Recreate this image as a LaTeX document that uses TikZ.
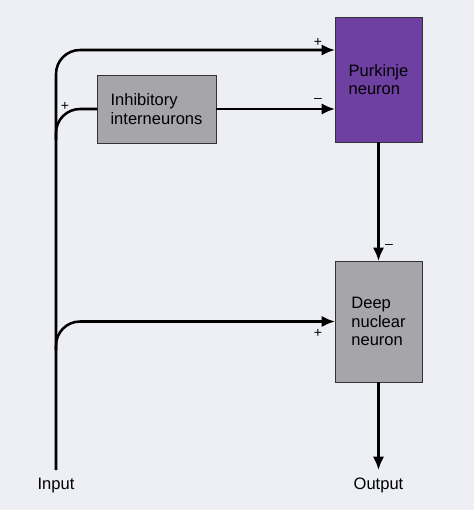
\documentclass[tikz,border=0pt]{standalone}
\usepackage{fontspec}
\setmainfont{Liberation Sans}
\usepackage{tikz}
\usetikzlibrary{arrows.meta}
\usetikzlibrary{positioning}
\definecolor{paper}{RGB}{237,239,244}
\definecolor{purkcol}{RGB}{110,64,162}
\definecolor{cellgray}{RGB}{166,166,170}
\tikzset{
    cellbox/.style={draw=black!80, line width=0.6pt, inner sep=0pt, outer sep=0pt,
        align=left, font=\fontsize{12.4}{13.7}\selectfont},
    axon/.style={draw=black, line width=1.9pt, rounded corners=18pt},
    excite/.style={axon, -{Latex[length=10pt,width=8.5pt]}},
    sign/.style={font=\fontsize{10.5}{10.5}\selectfont, inner sep=0pt},
    termlabel/.style={anchor=north, inner sep=0pt, outer sep=0pt,
        font=\fontsize{12.4}{13.7}\selectfont},
}

\begin{document}
\begin{tikzpicture}[x=0.75pt, y=-0.75pt]
	\fill[paper] (0,0) rectangle (474,510);
	\useasboundingbox (0,0) rectangle (474,510);
	% cells
	\node[cellbox, fill=purkcol, minimum width=65.25pt, minimum height=93.75pt] (purkinje) at (378.5,79.5) {Purkinje\\neuron};
	\node[cellbox, fill=cellgray, minimum width=89.25pt, minimum height=51pt] (inhib) at (156.5,109) {Inhibitory\\interneurons};
	\node[cellbox, fill=cellgray, minimum width=65.25pt, minimum height=90.75pt] (deep) at (378.5,321.5) {Deep\\nuclear\\neuron};
	\node[termlabel, inner ysep=6pt] (input) at (56,470) {Input};
	\node[termlabel, inner ysep=6pt] (output) at (378.5,470) {Output};
	\coordinate (topline) at (56,50);
	\coordinate (fork1) at (56,140);
	\coordinate (fork2) at (56,350);
	% connections
	\draw[excite] (input.north) |- (purkinje.west |- topline);
	\draw[axon] (fork1) |- (inhib.west);
	\draw[excite] (fork2) |- (deep.west);
	\draw[excite] (inhib.east) -- (purkinje.west |- inhib.east);
	\draw[excite] (purkinje.south) -- (deep.north);
	\draw[excite] (deep.south) -- (output.north);
	% signs
	\node[sign] (s1) at (318,42) {+};
	\node[sign] (s2) at (65,106) {+};
	\node[sign] (s3) at (318,100) {–};
	\node[sign] (s4) at (389,246) {–};
	\node[sign] (s5) at (318,333) {+};
\end{tikzpicture}
\end{document}
